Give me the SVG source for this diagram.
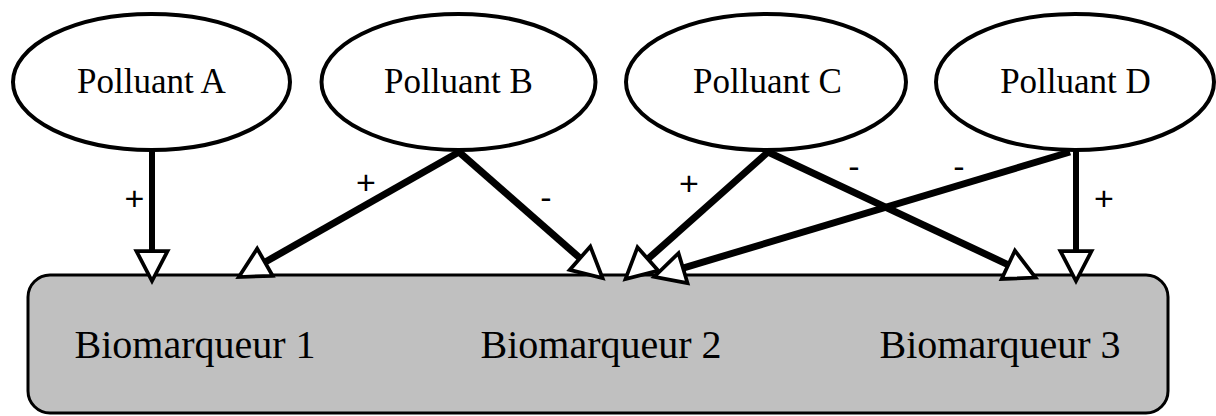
<svg xmlns="http://www.w3.org/2000/svg" width="1216" height="416" viewBox="0 0 1216 416">
<style>
.pol{fill:#fff;stroke:#000;stroke-width:4}
.pt{font-family:"Liberation Serif","Times New Roman",serif;font-size:35px;fill:#000;text-anchor:middle}
.bt{font-family:"Liberation Serif","Times New Roman",serif;font-size:40px;fill:#000;text-anchor:middle}
.box{fill:#c0c0c0;stroke:#000;stroke-width:3}
.e{fill:none;stroke:#000;stroke-width:7;marker-end:url(#ah)}
.v{stroke-width:6}
.lb{font-family:"Liberation Sans",Arial,sans-serif;font-size:34px;fill:#000;text-anchor:middle}
</style>
<defs>
<marker id="ah" markerUnits="userSpaceOnUse" orient="auto" refX="0" refY="0" markerWidth="40" markerHeight="40" viewBox="-4 -16 32 32" overflow="visible">
<path d="M0,-12.5 L24,0 L0,12.5 Z" fill="#fff" stroke="#000" stroke-width="3" stroke-linejoin="miter"/>
</marker>
</defs>
<g id="polluantA"><ellipse class="pol" cx="151.5" cy="82" rx="138.5" ry="68"/><text class="pt" x="151.5" y="93">Polluant A</text></g>
<g id="polluantB"><ellipse class="pol" cx="458.5" cy="82" rx="137" ry="68"/><text class="pt" x="458.5" y="93">Polluant B</text></g>
<g id="polluantC"><ellipse class="pol" cx="766" cy="82" rx="140" ry="68"/><text class="pt" x="767.5" y="93">Polluant C</text></g>
<g id="polluantD"><ellipse class="pol" cx="1075" cy="82" rx="139" ry="68"/><text class="pt" x="1075.5" y="93">Polluant D</text></g>
<g id="biomarqueurs">
<rect class="box" x="28" y="275" width="1140" height="138" rx="22"/>
<text class="bt" x="195" y="358">Biomarqueur 1</text>
<text class="bt" x="601" y="358">Biomarqueur 2</text>
<text class="bt" x="1000" y="358">Biomarqueur 3</text>
</g>
<g id="connectors">
<line class="e v" x1="152" y1="151" x2="152" y2="251"/>
<line class="e" x1="459" y1="152" x2="264.9" y2="262.2"/>
<line class="e" x1="459" y1="152" x2="580" y2="258.2"/>
<line class="e" x1="768" y1="152" x2="647.9" y2="259"/>
<line class="e" x1="768" y1="152" x2="1008.3" y2="264.8"/>
<line class="e" x1="1070" y1="152" x2="683" y2="268.1"/>
<line class="e v" x1="1076" y1="151" x2="1076" y2="251"/>
<text class="lb" x="134.5" y="210">+</text>
<text class="lb" x="366" y="194">+</text>
<text class="lb" x="546" y="209">-</text>
<text class="lb" x="689" y="195">+</text>
<text class="lb" x="854" y="178">-</text>
<text class="lb" x="959" y="178">-</text>
<text class="lb" x="1104" y="210">+</text>
</g>
</svg>
